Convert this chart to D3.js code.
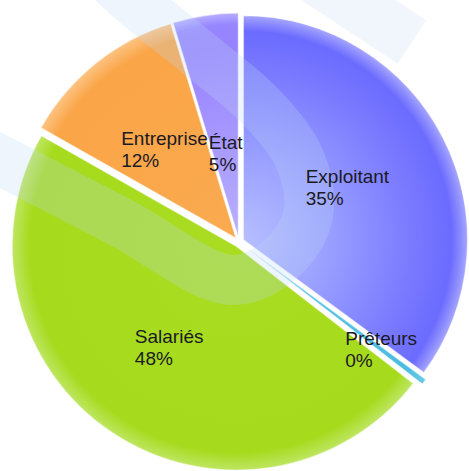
<!DOCTYPE html>
<html>
<head>
<meta charset="utf-8">
<script src="https://cdn.jsdelivr.net/npm/d3@7"></script>
<style>
  html, body { margin: 0; padding: 0; background: #fff; }
</style>
</head>
<body>
<div id="chart-container"></div>
<script>
// Données (ordre horaire depuis midi)
const categories = ["Exploitant", "Prêteurs", "Salariés", "Entreprise", "État"];
const values = [35.1, 0.4, 47.7, 12.1, 4.7];

const width = 469;
const height = 471;
const cx = 239, cy = 242;
const radius = 224;

// Couleurs (dégradé radial : centre -> bord)
const colorStops = {
    "Exploitant": [[0, "#b6beff"], [0.35, "#9ca2ff"], [0.75, "#7a7aff"], [0.93, "#6b6bff"], [0.97, "#8b8bff"], [1, "#a6a6ff"]],
    "Prêteurs": [[0, "#5cc6e6"], [0.9, "#4bbce0"], [1, "#6ccbe8"]],
    "Salariés": [[0, "#aadd22"], [0.92, "#a6da1c"], [1, "#bee662"]],
    "Entreprise": [[0, "#fbaa50"], [0.92, "#faa547"], [1, "#fcc382"]],
    "État": [[0, "#b8b0ff"], [0.5, "#a595ff"], [0.85, "#9782ff"], [0.95, "#9686ff"], [1, "#b6aeff"]]
};
const explode = { "Prêteurs": 8 };
const labelRadius = { "Exploitant": 0.52, "Prêteurs": 0.76, "Salariés": 0.54, "Entreprise": 0.51, "État": 0.38 };

const data = categories.map((name, i) => ({ name, value: values[i] }));
const total = d3.sum(values);

const svg = d3.select("#chart-container")
    .append("svg")
    .attr("width", width)
    .attr("height", height)
    .style("font-family", "'Liberation Sans', Arial, sans-serif");

const pie = d3.pie().sort(null).value((d) => d.value);
const arcs = pie(data);
const arc = d3.arc().innerRadius(0).outerRadius(radius);

// décalage de chaque part (éclaté)
function offset(d) {
    const mid = (d.startAngle + d.endAngle) / 2;
    const k = explode[d.data.name] || 5;
    return [Math.sin(mid) * k, -Math.cos(mid) * k];
}

const defs = svg.append("defs");
arcs.forEach((d, i) => {
    const g = defs.append("radialGradient")
        .attr("id", "grad" + i)
        .attr("gradientUnits", "userSpaceOnUse")
        .attr("cx", 0).attr("cy", 0).attr("r", radius);
    colorStops[d.data.name].forEach(([o, c]) => {
        g.append("stop").attr("offset", o).attr("stop-color", c);
    });
});

const wmColor = "rgb(190,215,245)";

// bande du filigrane cachée derrière la part
svg.append("path")
    .attr("d", d3.line()([[300, -32], [412, 42]]))
    .attr("stroke", wmColor)
    .attr("stroke-opacity", 0.22)
    .attr("stroke-width", 52);

// Parts
svg.append("g")
    .selectAll("path")
    .data(arcs)
    .enter()
    .append("path")
    .attr("transform", (d) => {
        const [ox, oy] = offset(d);
        return `translate(${cx + ox}, ${cy + oy})`;
    })
    .attr("d", arc)
    .attr("fill", (d, i) => `url(#grad${i})`)
    .attr("stroke", "rgba(255,255,255,0.45)")
    .attr("stroke-width", 1.2);

// Filigrane
const wm = [[90, -40], [132, 0], [200, 55], [262, 108], [300, 160], [308, 215], [282, 258], [232, 280], [120, 222], [0, 160], [-40, 140]];
svg.append("path")
    .attr("d", d3.line().curve(d3.curveCatmullRom)(wm))
    .attr("fill", "none")
    .attr("stroke", wmColor)
    .attr("stroke-opacity", 0.26)
    .attr("stroke-width", 50)
    .attr("stroke-linejoin", "round");

// Étiquettes
const labels = svg.append("g")
    .selectAll("text")
    .data(arcs)
    .enter()
    .append("text")
    .style("font-size", "19px")
    .style("fill", "#1a1a24");

labels.append("tspan").attr("class", "l1").text((d) => d.data.name);
labels.append("tspan").attr("class", "l2").text((d) => `${Math.round(d.data.value / total * 100)}%`);

labels.each(function (d) {
    const t = d3.select(this);
    const [ox, oy] = offset(d);
    const mid = (d.startAngle + d.endAngle) / 2;
    const r = radius * labelRadius[d.data.name];
    const x = cx + ox + Math.sin(mid) * r;
    const y = cy + oy - Math.cos(mid) * r;
    const w = d3.max(t.selectAll("tspan").nodes(), (n) => n.getComputedTextLength());
    const left = x - w / 2;
    t.select(".l1").attr("x", left).attr("y", y - 4);
    t.select(".l2").attr("x", left).attr("y", y + 18);
});
</script>
</body>
</html>
